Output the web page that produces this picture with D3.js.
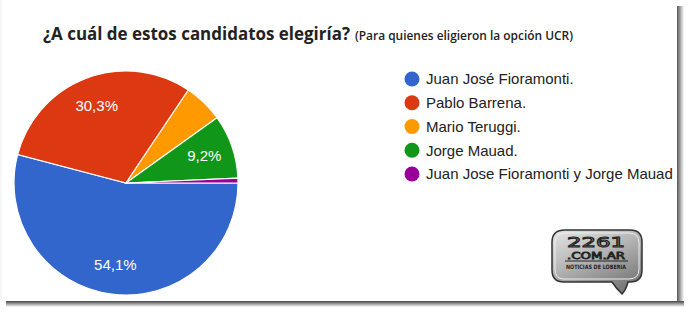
<!DOCTYPE html>
<html>
<head>
<meta charset="utf-8">
<script src="https://cdn.jsdelivr.net/npm/d3@7"></script>
<style>
  body { margin: 0; background: #fff; }
  svg { display: block; }
</style>
</head>
<body>
<script>
// datos
var candidates = ["Juan José Fioramonti.", "Pablo Barrena.", "Mario Teruggi.", "Jorge Mauad.",
                  "Juan Jose Fioramonti y Jorge Mauad"];
var shares = [54.1, 30.3, 5.7, 9.2, 0.7];
var colors = ["#3366cc", "#dc3912", "#ff9900", "#109618", "#990099"];

var _width = 690, _height = 312;
var _cx = 126, _cy = 183, _r = 112;

var svg = d3.select("body").append("svg")
    .attr("width", _width)
    .attr("height", _height);

var defs = svg.append("defs");

var gr = defs.append("linearGradient").attr("id", "shadowR").attr("x1", 0).attr("x2", 1);
gr.append("stop").attr("offset", 0).attr("stop-color", "#555");
gr.append("stop").attr("offset", 1).attr("stop-color", "#fff");
var gb = defs.append("linearGradient").attr("id", "shadowB").attr("x1", 0).attr("x2", 0).attr("y1", 0).attr("y2", 1);
gb.append("stop").attr("offset", 0).attr("stop-color", "#444");
gb.append("stop").attr("offset", 1).attr("stop-color", "#fff");
var gl = defs.append("linearGradient").attr("id", "bubble").attr("x1", 0).attr("y1", 0).attr("x2", 0.6).attr("y2", 1);
gl.append("stop").attr("offset", 0).attr("stop-color", "#e6e6e6");
gl.append("stop").attr("offset", 0.5).attr("stop-color", "#b4b4b4");
gl.append("stop").attr("offset", 1).attr("stop-color", "#7a7a7a");

// marco con sombra
svg.append("rect").attr("x", 677).attr("y", 6).attr("width", 7).attr("height", 301).attr("fill", "url(#shadowR)");
svg.append("rect").attr("x", 6).attr("y", 301).attr("width", 678).attr("height", 6).attr("fill", "url(#shadowB)");
svg.append("line").attr("x1", 1).attr("y1", 0).attr("x2", 1).attr("y2", 300)
    .attr("stroke", "#eee").attr("stroke-width", 1);

// titulo
svg.append("text")
    .attr("x", 43).attr("y", 40)
    .style("font-family", "'Open Sans', sans-serif")
    .style("font-weight", 700).style("font-size", "17px")
    .attr("fill", "#222")
    .attr("textLength", 307).attr("lengthAdjust", "spacingAndGlyphs")
    .text("¿A cuál de estos candidatos elegiría?");
svg.append("text")
    .attr("x", 355).attr("y", 40)
    .style("font-family", "'Open Sans', sans-serif")
    .style("font-weight", 600).style("font-size", "12px")
    .attr("fill", "#222")
    .attr("textLength", 218).attr("lengthAdjust", "spacingAndGlyphs")
    .text("(Para quienes eligieron la opción UCR)");

// torta
var pie = d3.pie().sort(null)
    .startAngle(Math.PI / 2)
    .endAngle(Math.PI / 2 + 2 * Math.PI);
var arcs = pie(shares);
var arc = d3.arc().innerRadius(0).outerRadius(_r);
var labelArc = d3.arc().innerRadius(_r * 0.74).outerRadius(_r * 0.74);

var pieG = svg.append("g").attr("transform", "translate(" + _cx + "," + _cy + ")");
pieG.selectAll("path.slice")
    .data(arcs)
    .enter().append("path")
    .attr("class", "slice")
    .attr("d", arc)
    .attr("fill", function(d, i) { return colors[i]; })
    .attr("stroke", "#fff")
    .attr("stroke-width", 1.2);

pieG.selectAll("text.pct")
    .data(arcs.filter(function(d) { return d.data >= 8; }))
    .enter().append("text")
    .attr("class", "pct")
    .attr("transform", function(d) { return "translate(" + labelArc.centroid(d) + ")"; })
    .attr("text-anchor", "middle")
    .attr("dy", "0.35em")
    .style("font-family", "'Liberation Sans', Arial, sans-serif")
    .style("font-size", "15px")
    .attr("fill", "#fff")
    .text(function(d) { return d.data.toFixed(1).replace(".", ",") + "%"; });

// leyenda
var legY = d3.scalePoint().domain(candidates).range([79, 174]);
var leg = svg.append("g").selectAll("g")
    .data(candidates)
    .enter().append("g")
    .attr("transform", function(d) { return "translate(412," + legY(d) + ")"; });
leg.append("circle").attr("r", 7.5).attr("fill", function(d, i) { return colors[i]; });
leg.append("text")
    .attr("x", 14).attr("dy", "0.36em")
    .style("font-family", "'Liberation Sans', Arial, sans-serif")
    .style("font-size", "15px")
    .attr("fill", "#222")
    .text(function(d) { return d; });

// logo 2261
var logo = svg.append("g");
logo.append("path")
    .attr("d", "M565,230 H630 Q642,230 642,242 V270 Q642,282 630,282 H628 Q626,290 622,294 Q616,288 612,282 H564 Q552,282 552,270 V242 Q552,230 565,230 Z")
    .attr("fill", "url(#bubble)")
    .attr("stroke", "#333").attr("stroke-width", 1.5);
logo.append("path")
    .attr("d", "M566,233 H629 Q639,233 639,243 V269 Q639,279 629,279 H564 Q555,279 555,269 V243 Q555,233 566,233 Z")
    .attr("fill", "none")
    .attr("stroke", "#eee").attr("stroke-width", 1);
logo.append("text").attr("x", 596).attr("y", 247)
    .attr("text-anchor", "middle")
    .style("font-family", "'DejaVu Sans', sans-serif").style("font-size", "14px")
    .attr("fill", "none").attr("stroke", "#222").attr("stroke-width", 1)
    .attr("textLength", 58).attr("lengthAdjust", "spacingAndGlyphs")
    .text("2261");
logo.append("text").attr("x", 596).attr("y", 259)
    .attr("text-anchor", "middle")
    .style("font-family", "'DejaVu Sans', sans-serif").style("font-size", "9px")
    .attr("fill", "none").attr("stroke", "#222").attr("stroke-width", 0.8)
    .attr("textLength", 58).attr("lengthAdjust", "spacingAndGlyphs")
    .text(".COM.AR");
logo.append("line").attr("x1", 565).attr("x2", 628).attr("y1", 261).attr("y2", 261)
    .attr("stroke", "#222").attr("stroke-width", 1);
logo.append("text").attr("x", 596).attr("y", 269)
    .attr("text-anchor", "middle")
    .style("font-family", "'DejaVu Sans', sans-serif").style("font-size", "6px")
    .style("font-weight", "bold")
    .attr("fill", "#222")
    .attr("textLength", 60).attr("lengthAdjust", "spacingAndGlyphs")
    .text("NOTICIAS DE LOBERIA");
</script>
</body>
</html>
